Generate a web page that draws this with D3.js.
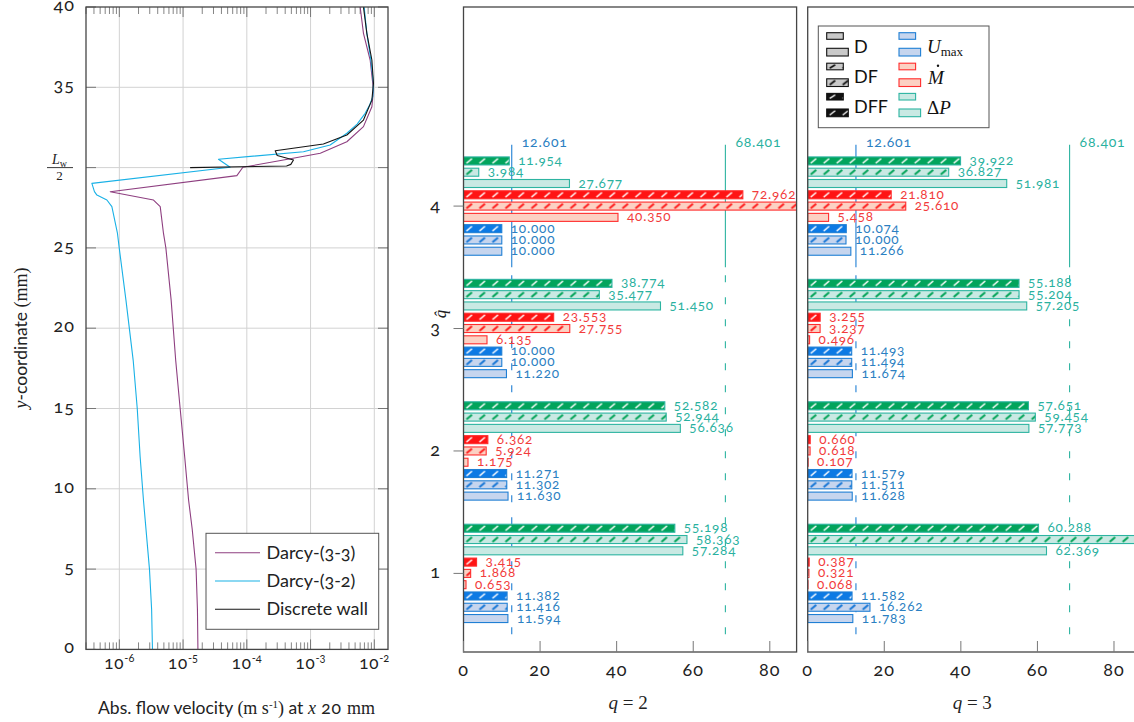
<!DOCTYPE html>
<html>
<head>
<meta charset="utf-8">
<script src="https://cdn.jsdelivr.net/npm/d3@7"></script>
<style>
  body { margin: 0; background: #fff; }
  svg { display: block; }
  .sans { font-family: Lato, "Noto Sans", sans-serif; }
  .num { font-family: Lato, "Noto Sans", sans-serif; font-variant-numeric: oldstyle-nums; font-feature-settings: "onum" 1; }
  .math { font-family: "Liberation Serif", "DejaVu Serif", serif; }
</style>
</head>
<body>
<svg id="fig" width="1134" height="722"></svg>
<script>
// ---------------- velocity profiles at x = 20 mm : [y (mm), |u| (m/s)] ----------------
const darcy33 = [
  [0, 1.71e-5], [2.5, 1.68e-5], [5, 1.60e-5], [7.5, 1.39e-5], [9.3, 1.22e-5], [12, 1.06e-5],
  [15, 9.0e-6], [18, 7.66e-6], [21.75, 6.5e-6], [25.0, 5.37e-6], [25.9, 4.93e-6], [27.57, 4.38e-6],
  [27.98, 3.44e-6], [28.5, 7.2e-7], [29.5, 6.98e-5], [30.02, 8.67e-5], [30.47, 3.76e-4],
  [30.89, 1.42e-3], [31.61, 3.71e-3], [32.55, 6.76e-3], [33.79, 9.16e-3], [34.83, 9.70e-3],
  [36.7, 8.61e-3], [38.36, 6.76e-3], [40, 6.0e-3]
];
const darcy32 = [
  [0, 3.31e-6], [2.5, 3.21e-6], [5, 2.97e-6], [9.3, 2.39e-6], [12, 2.12e-6], [15, 1.91e-6],
  [18, 1.65e-6], [21.75, 1.27e-6], [25, 9.96e-7], [25.9, 9.35e-7], [27.57, 7.64e-7], [27.98, 6.38e-7],
  [28.29, 4.45e-7], [28.5, 4.07e-7], [29.02, 3.71e-7], [30.02, 5.48e-5], [30.52, 3.59e-5],
  [30.99, 7.74e-4], [31.41, 2.03e-3], [32.14, 3.71e-3], [32.71, 5.38e-3], [33.38, 7.18e-3],
  [33.9, 8.45e-3], [34.42, 9.48e-3], [35.25, 9.70e-3], [36.7, 8.83e-3], [38.36, 7.64e-3], [40, 6.93e-3]
];
const discreteWall = [
  [30.0, 1.29e-5], [30.1, 4.2e-4], [30.2, 4.9e-4], [30.47, 5.40e-4], [30.75, 3.0e-4], [31.05, 2.79e-4],
  [31.47, 1.59e-3], [32.03, 3.71e-3], [32.96, 6.76e-3], [34.2, 9.16e-3], [35.25, 9.70e-3],
  [36.7, 9.16e-3], [38.36, 7.64e-3], [40, 6.76e-3]
];
const profileNames = ["Darcy-(3-3)", "Darcy-(3-2)", "Discrete wall"];
const velDecades = [-6, -5, -4, -3, -2];
const heightTicks = [0, 5, 10, 15, 20, 25, 30, 35, 40];

// ---------------- bar panels: rows = model (D, DF, DFF), columns = q̂ = 1..4 ----------------
const qHat = [1, 2, 3, 4];
const modelNames = ["D", "DF", "DFF"];
const umaxQ2 = [[11.594, 11.630, 11.220, 10.000], [11.416, 11.302, 10.000, 10.000], [11.382, 11.271, 10.000, 10.000]];
const mdotQ2 = [[0.653, 1.175, 6.135, 40.350], [1.868, 5.924, 27.755, 98.6], [3.415, 6.362, 23.553, 72.962]];
const dpQ2   = [[57.284, 56.636, 51.450, 27.677], [58.363, 52.944, 35.477, 3.984], [55.198, 52.582, 38.774, 11.954]];
const umaxQ3 = [[11.783, 11.628, 11.674, 11.266], [16.262, 11.511, 11.494, 10.000], [11.582, 11.579, 11.493, 10.074]];
const mdotQ3 = [[0.068, 0.107, 0.496, 5.458], [0.321, 0.618, 3.237, 25.610], [0.387, 0.660, 3.255, 21.810]];
const dpQ3   = [[62.369, 57.773, 57.205, 51.981], [90.6, 59.454, 55.204, 36.827], [60.288, 57.651, 55.188, 39.922]];
const refUmax = 12.601;
const refDp = 68.401;
const barTicks = [0, 20, 40, 60, 80];

// ---------------- styles ----------------
const profileColors = ["#8e3f80", "#19b1e6", "#151515"];
const varStyle = [
  { key: "umax", line: "#1f7fd4", light: "#c6d5ee", dark: "#0d7ae4", hatch: "#1a78d6", text: "#2b80c2" },
  { key: "mdot", line: "#ff2d2d", light: "#fcd1c3", dark: "#ff1414", hatch: "#ff1f1f", text: "#f23c3c" },
  { key: "dp",   line: "#2db4a1", light: "#c9e9e3", dark: "#02a45c", hatch: "#05a45a", text: "#2ab1a0" }
];
const frameColor = "#454545";
const gridColor = "#d2d2d2";

const svg = d3.select("#fig");
const defs = svg.append("defs");

// =========================================================
// Left panel: velocity profile, log-x
// =========================================================
const L = { x0: 86, x1: 388, y0: 7, y1: 649.4 };
const xL = d3.scaleLog().domain([3.0e-7, 1.64e-2]).range([L.x0, L.x1]);
const yL = d3.scaleLinear().domain([0, 40]).range([L.y1, L.y0]);
const gL = svg.append("g");

// grid
velDecades.forEach(d => {
  const v = Math.pow(10, d);
  gL.append("line").attr("x1", xL(v)).attr("x2", xL(v)).attr("y1", L.y0).attr("y2", L.y1)
    .attr("stroke", gridColor).attr("stroke-width", 1);
});
heightTicks.filter(t => t > 0 && t < 40).forEach(t => {
  gL.append("line").attr("x1", L.x0).attr("x2", L.x1).attr("y1", yL(t)).attr("y2", yL(t))
    .attr("stroke", gridColor).attr("stroke-width", 1);
});

// minor ticks (top and bottom, inside)
for (let d = -7; d <= -2; d++) {
  for (let m = 2; m <= 9; m++) {
    const v = m * Math.pow(10, d);
    if (v < xL.domain()[0] || v > xL.domain()[1]) continue;
    const px = xL(v);
    gL.append("line").attr("x1", px).attr("x2", px).attr("y1", L.y0).attr("y2", L.y0 + 7).attr("stroke", "#777").attr("stroke-width", 0.9);
    gL.append("line").attr("x1", px).attr("x2", px).attr("y1", L.y1).attr("y2", L.y1 - 7).attr("stroke", "#777").attr("stroke-width", 0.9);
  }
}
velDecades.forEach(d => {
  const px = xL(Math.pow(10, d));
  gL.append("line").attr("x1", px).attr("x2", px).attr("y1", L.y0).attr("y2", L.y0 + 10).attr("stroke", "#777");
  gL.append("line").attr("x1", px).attr("x2", px).attr("y1", L.y1).attr("y2", L.y1 - 10).attr("stroke", "#777");
});
heightTicks.forEach(t => {
  gL.append("line").attr("x1", L.x0).attr("x2", L.x0 + 10).attr("y1", yL(t)).attr("y2", yL(t)).attr("stroke", "#777");
  gL.append("line").attr("x1", L.x1).attr("x2", L.x1 - 10).attr("y1", yL(t)).attr("y2", yL(t)).attr("stroke", "#777");
});

// profiles
const clipL = defs.append("clipPath").attr("id", "clipL");
clipL.append("rect").attr("x", L.x0).attr("y", L.y0).attr("width", L.x1 - L.x0).attr("height", L.y1 - L.y0);
const lineL = d3.line().x(d => xL(d[1])).y(d => yL(d[0])).curve(d3.curveLinear);
const gCurves = gL.append("g").attr("clip-path", "url(#clipL)");
[darcy33, darcy32, discreteWall].forEach((s, i) => {
  gCurves.append("path").attr("d", lineL(s)).attr("fill", "none")
    .attr("stroke", profileColors[i]).attr("stroke-width", 1.1).attr("stroke-linejoin", "round");
});

// frame
gL.append("rect").attr("x", L.x0).attr("y", L.y0).attr("width", L.x1 - L.x0).attr("height", L.y1 - L.y0)
  .attr("fill", "none").attr("stroke", frameColor).attr("stroke-width", 1.3);

// y tick labels
heightTicks.filter(t => t !== 30).forEach(t => {
  gL.append("text").attr("class", "num").attr("x", 75).attr("y", yL(t) + 4)
    .attr("text-anchor", "end").attr("font-size", 18).attr("letter-spacing", 1).attr("fill", "#222").text(t);
});
// L_w / 2 fraction
{
  const yc = yL(30);
  const fr = gL.append("g").attr("class", "math").attr("fill", "#222");
  const top = fr.append("text").attr("x", 59.5).attr("y", yc - 4).attr("text-anchor", "middle").attr("font-size", 14);
  top.append("tspan").attr("font-style", "italic").text("L");
  top.append("tspan").attr("font-size", 10).attr("dy", 3).text("w");
  fr.append("line").attr("x1", 47).attr("x2", 73).attr("y1", yc).attr("y2", yc).attr("stroke", "#222").attr("stroke-width", 0.9);
  fr.append("text").attr("x", 59.5).attr("y", yc + 12).attr("text-anchor", "middle").attr("font-size", 13).text("2");
}
// x tick labels 10^d
velDecades.forEach(d => {
  const t = gL.append("text").attr("class", "num").attr("x", xL(Math.pow(10, d))).attr("y", 669)
    .attr("text-anchor", "middle").attr("font-size", 17).attr("letter-spacing", 0.8).attr("fill", "#222");
  t.append("tspan").text("10");
  t.append("tspan").attr("dy", -7).attr("font-size", 11).attr("letter-spacing", 0).text("-" + (-d));
});
// axis labels
{
  const t = svg.append("text").attr("x", 236.5).attr("y", 714).attr("text-anchor", "middle")
    .attr("font-size", 17.5).attr("fill", "#222");
  t.append("tspan").attr("class", "sans").text("Abs. flow velocity ");
  t.append("tspan").attr("class", "math").attr("font-size", 18).text("(m s");
  t.append("tspan").attr("class", "math").attr("font-size", 11).attr("dy", -6).text("-1");
  t.append("tspan").attr("class", "math").attr("font-size", 18).attr("dy", 6).text(")");
  t.append("tspan").attr("class", "sans").text(" at ");
  t.append("tspan").attr("class", "math").attr("font-style", "italic").attr("font-size", 18).text("x");
  t.append("tspan").attr("class", "num").attr("letter-spacing", 0.8).text(" 20 ");
  t.append("tspan").attr("class", "math").attr("font-size", 18).text("mm");
}
{
  const t = svg.append("text").attr("transform", "translate(27,338) rotate(-90)").attr("text-anchor", "middle")
    .attr("font-size", 17.5).attr("fill", "#222");
  t.append("tspan").attr("class", "math").attr("font-style", "italic").attr("font-size", 18).text("y");
  t.append("tspan").attr("class", "sans").text("-coordinate ");
  t.append("tspan").attr("class", "math").attr("font-size", 18).text("(mm)");
}
// legend
{
  const lg = gL.append("g");
  lg.append("rect").attr("x", 206).attr("y", 533.3).attr("width", 172.7).attr("height", 96)
    .attr("fill", "#fff").attr("stroke", "#555").attr("stroke-width", 1);
  profileNames.forEach((name, i) => {
    const yy = 552.7 + i * 28.3;
    lg.append("line").attr("x1", 215).attr("x2", 260).attr("y1", yy).attr("y2", yy)
      .attr("stroke", profileColors[i]).attr("stroke-width", 1.1);
    lg.append("text").attr("class", "num").attr("x", 266.5).attr("y", yy + 6).attr("font-size", 18)
      .attr("fill", "#222").text(name);
  });
}

// =========================================================
// Bar panels (q = 2 and q = 3)
// =========================================================
const B = { y0: 7, y1: 652, width: 333.1 };
const yB = d3.scaleLinear().domain([0.358, 5.626]).range([B.y1, B.y0]);
const step = 0.0922;       // spacing between neighbouring bars (q̂ units)
const barH = 0.0654;       // bar thickness (q̂ units)
const fmt = d3.format(".3f");
let patId = 0;

function hatchPattern(x, y, h, fill, strokeCol, sw) {
  const id = "hp" + (patId++);
  const p = defs.append("pattern").attr("id", id).attr("patternUnits", "userSpaceOnUse")
    .attr("x", x).attr("y", y).attr("width", 13).attr("height", h);
  p.append("rect").attr("width", 13).attr("height", h).attr("fill", fill);
  p.append("line").attr("x1", 3).attr("y1", h - 1.6).attr("x2", 8.5).attr("y2", 1.6)
    .attr("stroke", strokeCol).attr("stroke-width", sw).attr("stroke-linecap", "butt");
  return "url(#" + id + ")";
}

function barPanel(left, sets, label, showY) {
  const x = d3.scaleLinear().domain([0, 87]).range([left, left + B.width]);
  const g = svg.append("g");
  const cid = "clipB" + Math.round(left);
  defs.append("clipPath").attr("id", cid).append("rect")
    .attr("x", x(0)).attr("y", B.y0).attr("width", B.width).attr("height", B.y1 - B.y0);
  const gb = g.append("g").attr("clip-path", "url(#" + cid + ")");

  // reference lines: solid across q̂ = 4, dashed below
  [[refUmax, varStyle[0]], [refDp, varStyle[2]]].forEach(([rv, st]) => {
    gb.append("line").attr("x1", x(rv)).attr("x2", x(rv)).attr("y1", yB(4.5)).attr("y2", yB(3.5))
      .attr("stroke", st.line).attr("stroke-width", 1.1);
    gb.append("line").attr("x1", x(rv)).attr("x2", x(rv)).attr("y1", yB(3.5)).attr("y2", yB(0.5))
      .attr("stroke", st.line).attr("stroke-width", 1.1).attr("stroke-dasharray", "7,15").attr("stroke-dashoffset", -8);
    g.append("text").attr("class", "num").attr("x", x(rv) + 10).attr("y", yB(4.5) + 2)
      .attr("font-size", 14).attr("fill", st.text).attr("letter-spacing", 0.8).text(fmt(rv));
  });

  sets.forEach((vals, vi) => {
    const st = varStyle[vi];
    vals.forEach((row, mi) => {
      row.forEach((v, qi) => {
        const k = vi * 3 + mi - 4;
        const qc = qHat[qi] + k * step;
        const yTop = yB(qc + barH / 2), yBot = yB(qc - barH / 2);
        const h = yBot - yTop;
        let fill;
        if (mi === 0) fill = st.light;
        else if (mi === 1) fill = hatchPattern(x(0), yTop, h, st.light, st.hatch, 2.0);
        else fill = hatchPattern(x(0), yTop, h, st.dark, "#ffffff", 1.4);
        gb.append("rect").attr("x", x(0)).attr("y", yTop).attr("width", x(v) - x(0)).attr("height", h)
          .attr("fill", fill).attr("stroke", st.line).attr("stroke-width", 1.1);
        if (v <= x.domain()[1]) {
          g.append("text").attr("class", "num").attr("x", x(v) + 9).attr("y", yB(qc) + 4)
            .attr("font-size", 13.5).attr("fill", st.text).attr("letter-spacing", 0.8).text(fmt(v));
        }
      });
    });
  });

  // frame
  g.append("rect").attr("x", x(0)).attr("y", B.y0).attr("width", B.width).attr("height", B.y1 - B.y0)
    .attr("fill", "none").attr("stroke", frameColor).attr("stroke-width", 1.3);
  // x ticks
  barTicks.forEach(t => {
    g.append("line").attr("x1", x(t)).attr("x2", x(t)).attr("y1", B.y1).attr("y2", B.y1 - 11)
      .attr("stroke", "#777").attr("stroke-width", 1);
    g.append("text").attr("class", "num").attr("x", x(t)).attr("y", 676).attr("text-anchor", "middle")
      .attr("font-size", 18).attr("letter-spacing", 1).attr("fill", "#222").text(t);
  });
  // axis label "q = n"
  {
    const t = g.append("text").attr("class", "math").attr("x", (x(0) + x(87)) / 2 - 2).attr("y", 709)
      .attr("text-anchor", "middle").attr("font-size", 19).attr("fill", "#222");
    t.append("tspan").attr("font-style", "italic").text("q");
    t.append("tspan").text(" = " + label);
  }
  if (showY) {
    qHat.forEach(q => {
      g.append("line").attr("x1", x(0) - 10).attr("x2", x(0)).attr("y1", yB(q)).attr("y2", yB(q))
        .attr("stroke", "#777");
      g.append("text").attr("class", "num").attr("x", 440).attr("y", yB(q) + 5).attr("text-anchor", "end")
        .attr("font-size", 18).attr("fill", "#222").text(q);
    });
    const t = g.append("text").attr("class", "math").attr("transform", "translate(446,314) rotate(-90)")
      .attr("text-anchor", "middle").attr("font-size", 17).attr("font-style", "italic").attr("fill", "#222");
    t.text("q\u0302");
  }
  return x;
}

barPanel(463.5, [umaxQ2, mdotQ2, dpQ2], "2", true);
barPanel(807.7, [umaxQ3, mdotQ3, dpQ3], "3", false);

// legend inside the q = 3 panel
{
  const lg = svg.append("g");
  lg.append("rect").attr("x", 818.3).attr("y", 26).attr("width", 170.7).attr("height", 101.7)
    .attr("fill", "#fff").attr("stroke", "#555").attr("stroke-width", 1);
  const gray = "#c9c9c9";
  const swatch = (xx, yy, w, h, style) => {
    let fill, stroke;
    if (style.type === "model") {
      stroke = "#111";
      if (style.m === 0) fill = gray;
      else if (style.m === 1) fill = hatchPattern(xx, yy, h, gray, "#111", 1.8);
      else fill = hatchPattern(xx, yy, h, "#111", "#fff", 1.3);
    } else {
      stroke = style.st.line; fill = style.st.light;
    }
    lg.append("rect").attr("x", xx).attr("y", yy).attr("width", w).attr("height", h)
      .attr("fill", fill).attr("stroke", stroke).attr("stroke-width", 1.1);
  };
  const rows = [32.7, 63.2, 93.4];
  modelNames.forEach((name, i) => {
    swatch(826.7, rows[i], 16.6, 6.6, { type: "model", m: i });
    swatch(826.7, rows[i] + 15.6, 21.6, 7.7, { type: "model", m: i });
    lg.append("text").attr("class", "sans").attr("x", 854).attr("y", rows[i] + 20)
      .attr("font-size", 18).attr("fill", "#111").text(name);
  });
  varStyle.forEach((st, i) => {
    swatch(899, rows[i], 16.6, 6.6, { type: "var", st });
    swatch(899, rows[i] + 15.6, 21.6, 7.7, { type: "var", st });
  });
  // U_max
  {
    const t = lg.append("text").attr("class", "math").attr("x", 927).attr("y", rows[0] + 20.5)
      .attr("font-size", 19).attr("fill", "#111");
    t.append("tspan").attr("font-style", "italic").text("U");
    t.append("tspan").attr("font-size", 13).attr("dy", 3).text("max");
  }
  // M dot
  {
    lg.append("text").attr("class", "math").attr("x", 928).attr("y", rows[1] + 21)
      .attr("font-size", 19).attr("font-style", "italic").attr("fill", "#111").text("M");
    lg.append("circle").attr("cx", 938).attr("cy", rows[1] + 2.5).attr("r", 1.2).attr("fill", "#111");
  }
  // Delta P
  {
    const t = lg.append("text").attr("class", "math").attr("x", 927).attr("y", rows[2] + 21)
      .attr("font-size", 19).attr("fill", "#111");
    t.append("tspan").text("\u0394");
    t.append("tspan").attr("font-style", "italic").text("P");
  }
}
</script>
</body>
</html>
